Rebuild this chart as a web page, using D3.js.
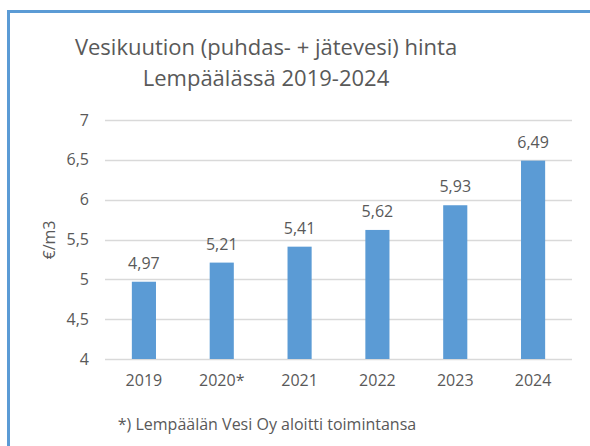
<!DOCTYPE html>
<html>
<head>
<meta charset="utf-8">
<script src="https://cdn.jsdelivr.net/npm/d3@7"></script>
<style>
  body { margin: 0; background: #fff; }
  text { font-family: "Open Sans", sans-serif; fill: #595959; }
</style>
</head>
<body>
<div class="container"></div>
<script>
const WIDTH = 590;
const HEIGHT = 446;

var years = ['2019', '2020*', '2021', '2022', '2023', '2024'];
var prices = [4.97, 5.21, 5.41, 5.62, 5.93, 6.49];
var yTicks = [4, 4.5, 5, 5.5, 6, 6.5, 7];
var titleLines = ['Vesikuution (puhdas- + jätevesi) hinta', 'Lempäälässä 2019-2024'];
var footnote = '*) Lempäälän Vesi Oy aloitti toimintansa';

var comma = (d) => String(d).replace('.', ',');

var translate = function(x, y) {
    return `translate(${x},${y})`;
};

var draw = function() {
    var svg = d3.select('.container').append('svg')
        .attr('width', WIDTH)
        .attr('height', HEIGHT);

    // frame (only left and top edges visible)
    svg.append('path')
        .attr('d', 'M8.5,446 L8.5,11.5 L590,11.5')
        .attr('fill', 'none')
        .attr('stroke', '#5B9BD5')
        .attr('stroke-width', 3);

    var left = 105, right = 572, top = 120, bottom = 359;

    let x = d3.scaleBand()
        .domain(years)
        .range([left, right])
        .paddingInner(0.69)
        .paddingOuter(0.345);

    let y = d3.scaleLinear()
        .domain([4, 7])
        .range([bottom, top]);

    // gridlines
    svg.append('g')
        .selectAll('line')
        .data(yTicks)
        .join('line')
        .attr('x1', left)
        .attr('x2', right)
        .attr('y1', (d) => Math.round(y(d)) + 0.5)
        .attr('y2', (d) => Math.round(y(d)) + 0.5)
        .attr('stroke', '#D9D9D9')
        .attr('stroke-width', 1.5);

    let yAxis = d3.axisLeft(y).tickValues(yTicks).tickSize(0).tickPadding(0).tickFormat(comma);
    var ya = svg.append('g')
        .attr('transform', translate(89, 0))
        .call(yAxis);
    ya.select('.domain').remove();
    ya.selectAll('text').attr('font-size', 16).attr('fill', '#595959').attr('font-family', '"Open Sans", sans-serif');

    let xAxis = d3.axisBottom(x).tickSize(0).tickPadding(0);
    var xa = svg.append('g')
        .attr('transform', translate(0, 375))
        .call(xAxis);
    xa.select('.domain').remove();
    xa.selectAll('text').attr('font-size', 16).attr('fill', '#595959').attr('font-family', '"Open Sans", sans-serif');

    svg.append('g')
        .selectAll('rect')
        .data(prices)
        .join('rect')
        .attr('x', (d, i) => x(years[i]))
        .attr('width', x.bandwidth())
        .attr('y', (d) => y(d))
        .attr('height', (d) => y(4) - y(d))
        .attr('fill', '#5B9BD5');

    svg.append('g')
        .selectAll('text')
        .data(prices)
        .join('text')
        .attr('x', (d, i) => x(years[i]) + x.bandwidth() / 2)
        .attr('y', (d) => y(d) - 13)
        .attr('text-anchor', 'middle')
        .attr('font-size', 16)
        .text(comma);

    svg.append('g')
        .selectAll('text')
        .data(titleLines)
        .join('text')
        .attr('x', 266)
        .attr('y', (d, i) => 55 + i * 31)
        .attr('text-anchor', 'middle')
        .attr('font-size', 22)
        .text((d) => d);

    svg.append('text')
        .attr('transform', translate(55, 240) + ' rotate(-90)')
        .attr('text-anchor', 'middle')
        .attr('font-size', 16)
        .text('€/m3');

    svg.append('text')
        .attr('x', 267)
        .attr('y', 430)
        .attr('text-anchor', 'middle')
        .attr('font-size', 16)
        .text(footnote);
};
window.onload = draw;
</script>
</body>
</html>
